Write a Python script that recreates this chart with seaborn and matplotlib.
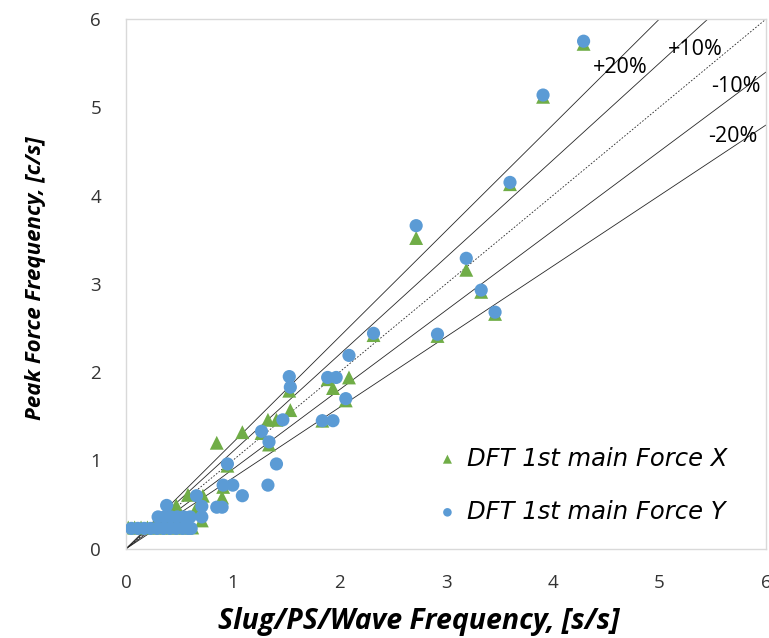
import numpy as np
import pandas as pd
import matplotlib.pyplot as plt
import seaborn as sns

# Datos
fx_x = [4.29, 3.91, 3.60, 2.72, 3.19, 3.33, 3.46, 2.92, 2.32, 2.09, 1.53, 1.89, 1.94,
        2.06, 1.54, 1.33, 1.41, 1.84, 1.27, 1.09, 0.85, 1.34, 0.95, 0.91, 0.90, 0.72,
        0.58, 0.47, 0.71, 0.65, 0.50, 0.40,
        0.02, 0.08, 0.14, 0.20, 0.26, 0.32, 0.38, 0.44, 0.50, 0.56, 0.62]
fx_y = [5.72, 5.12, 4.13, 3.52, 3.16, 2.91, 2.66, 2.41, 2.42, 1.94, 1.79, 1.92, 1.82,
        1.68, 1.57, 1.46, 1.46, 1.45, 1.31, 1.32, 1.20, 1.18, 0.94, 0.70, 0.58, 0.60,
        0.61, 0.49, 0.32, 0.44, 0.33, 0.33,
        0.24, 0.24, 0.24, 0.24, 0.24, 0.24, 0.24, 0.24, 0.24, 0.24, 0.24]

fy_x = [4.29, 3.91, 3.60, 2.72, 3.19, 3.33, 3.46, 2.92, 2.32, 2.09, 1.53, 1.54, 1.89,
        1.97, 2.06, 1.47, 1.84, 1.94, 1.27, 1.34, 0.95, 1.41, 1.33, 0.91, 1.00, 1.09,
        0.85, 0.90, 0.66, 0.71, 0.71, 0.38,
        0.30, 0.36, 0.42, 0.48, 0.54, 0.60,
        0.05, 0.11, 0.17, 0.23, 0.29, 0.35, 0.41, 0.47, 0.53, 0.58, 0.61]
fy_y = [5.75, 5.14, 4.15, 3.66, 3.29, 2.93, 2.68, 2.43, 2.44, 2.19, 1.95, 1.83, 1.94,
        1.94, 1.70, 1.46, 1.45, 1.45, 1.33, 1.21, 0.96, 0.96, 0.72, 0.72, 0.72, 0.60,
        0.47, 0.47, 0.60, 0.48, 0.36, 0.49,
        0.36, 0.36, 0.36, 0.36, 0.36, 0.36,
        0.23, 0.23, 0.23, 0.23, 0.23, 0.23, 0.23, 0.23, 0.23, 0.23, 0.23]

# Lineas de referencia: factor y etiqueta
factores = [1.2, 1.1, 1.0, 0.9, 0.8]
etiquetas = ['+20%', '+10%', '', '-10%', '-20%']
etiqueta_pos = [(4.63, 5.45), (5.34, 5.66), None, (5.72, 5.24), (5.69, 4.67)]

verde = '#70AD47'
azul = '#5B9BD5'
gris = '#D9D9D9'

sns.set_style('white')
plt.rcParams['font.family'] = ['Open Sans', 'DejaVu Sans']

df_x = pd.DataFrame({'x': fx_x, 'y': fx_y})
df_y = pd.DataFrame({'x': fy_x, 'y': fy_y})

fig, ax = plt.subplots(figsize=(7.69, 6.38), dpi=100)
fig.subplots_adjust(left=0.164, right=0.996, bottom=0.14, top=0.97)

xs = np.array([0, 6.0])
for f, lab, pos in zip(factores, etiquetas, etiqueta_pos):
    ls = (0, (2, 2)) if f == 1.0 else '-'
    ax.plot(xs, xs * f, color='#262626', lw=0.6, ls=ls, zorder=1)
    if lab:
        ax.text(pos[0], pos[1], lab, fontsize=15.5, color='black',
                ha='center', va='center', zorder=4)

sns.scatterplot(data=df_x, x='x', y='y', marker='^', s=100, color=verde,
                edgecolor='none', ax=ax, zorder=2, label='DFT 1st main Force X')
sns.scatterplot(data=df_y, x='x', y='y', marker='o', s=90, color=azul,
                edgecolor='none', ax=ax, zorder=3, label='DFT 1st main Force Y')

ax.set_xlim(0, 6)
ax.set_ylim(0, 6)
ax.set_xticks(range(7))
ax.set_yticks(range(7))
for s in ax.spines.values():
    s.set_color(gris)
    s.set_linewidth(1)
ax.tick_params(axis='both', direction='inout', length=8, color=gris, labelsize=13.5,
               labelcolor='#333333')
ax.tick_params(axis='x', pad=14)
ax.tick_params(axis='y', pad=14)

ax.set_xlabel('Slug/PS/Wave Frequency, [s/s]', fontsize=20.5, fontweight='bold',
              fontstyle='italic', color='black')
ax.set_ylabel('Peak Force Frequency, [c/s]', fontsize=16, fontweight='bold',
              fontstyle='italic', color='black')
ax.xaxis.set_label_coords(0.457, -0.11)
ax.yaxis.set_label_coords(-0.125, 0.511)

leg = ax.legend(loc='center left', bbox_to_anchor=(0.487, 0.12), frameon=False,
                prop={'family': 'DejaVu Sans', 'size': 17.5, 'style': 'oblique'},
                markerscale=0.65, handlelength=0.8, handletextpad=0.4,
                labelspacing=1.2, borderpad=0, borderaxespad=0)
for t in leg.get_texts():
    t.set_color('black')

plt.savefig('out.png', dpi=100)
plt.close()
